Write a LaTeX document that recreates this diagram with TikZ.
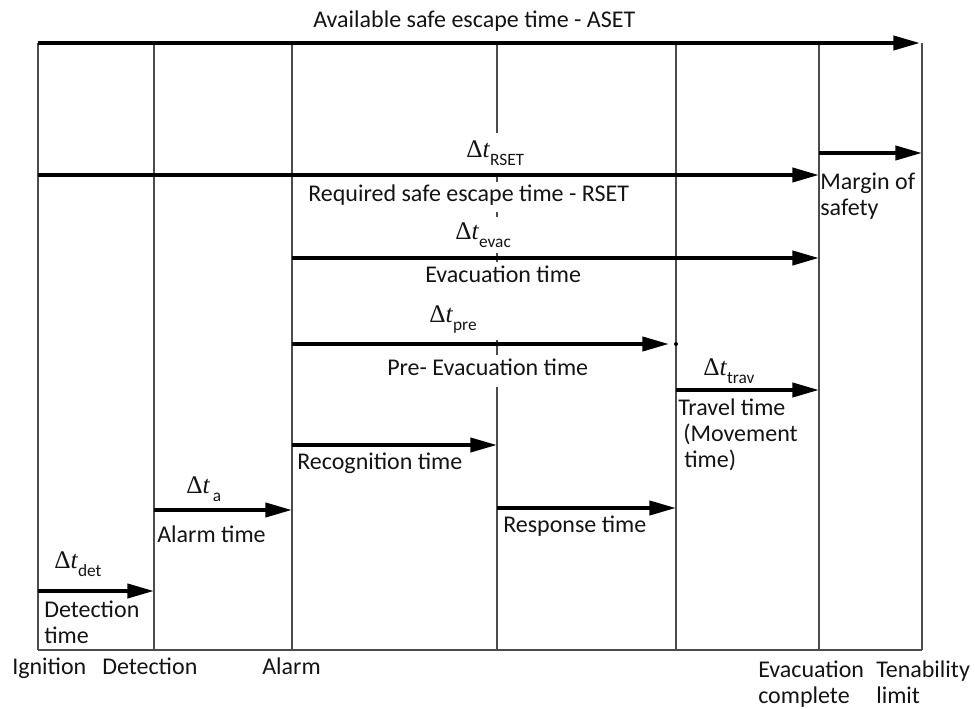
\documentclass[tikz,border=0pt]{standalone}
\usepackage{fontspec}
\setmainfont{Carlito}
\newfontfamily\deltafont{Liberation Serif}
\usetikzlibrary{arrows.meta}
\newcommand{\dtl}[1]{{\deltafont\fontsize{19}{20}\selectfont Δ\textit{t}}\raisebox{-6pt}{\fontsize{13}{13}\selectfont #1}}
\begin{document}
\begin{tikzpicture}[x=0.75pt,y=-0.75pt,
  vline/.style={draw=black!70, line width=1.1pt},
  tarrow/.style={line width=3pt, -{Triangle[length=20pt,width=10.5pt]}},
  lbl/.style={inner sep=0pt, anchor=base west, font=\fontsize{18}{20}\selectfont, text=black!92},
]
\useasboundingbox (0,0) rectangle (975,709);

% time instants (top and bottom of each timeline)
\foreach \n/\x in {ign/38, det/154, ala/292, mid/497, res/676, eva/819, ten/922}{
  \coordinate (\n-t) at (\x,43);
  \coordinate (\n-b) at (\x,650);
}
% vertical lines
\foreach \n in {ign, det, ala, res, eva, ten}{
  \draw[vline] (\n-t) -- (\n-b);
}
% middle line, interrupted by labels
\foreach \a/\b in {43/133, 177/182, 212/217, 253/262, 340/355, 387/650}{
  \draw[vline] (497,\a) -- (497,\b);
}
% baseline
\draw[vline] (ign-b) -- (ten-b);

% arrows
\coordinate (asetS) at (38,43);   \coordinate (asetE) at (920,43);
\coordinate (rsetS) at (38,175);  \coordinate (rsetE) at (819,175);
\coordinate (marS) at (819,153);  \coordinate (marE) at (922,153);
\coordinate (evS) at (292,258);   \coordinate (evE) at (819,258);
\coordinate (preS) at (292,344);  \coordinate (preE) at (669,344);
\coordinate (trS) at (676,390);   \coordinate (trE) at (819,390);
\coordinate (recS) at (292,445);  \coordinate (recE) at (497,445);
\coordinate (rspS) at (497,508);  \coordinate (rspE) at (676,508);
\coordinate (alS) at (154,510);   \coordinate (alE) at (292,510);
\coordinate (dtS) at (38,591);    \coordinate (dtE) at (154,591);

\draw[tarrow] (asetS) -- (asetE);
\draw[tarrow] (rsetS) -- (rsetE);
\draw[tarrow] (marS) -- (marE);
\draw[tarrow] (evS) -- (evE);
\draw[tarrow] (preS) -- (preE);
\fill (676,344) circle (2);
\draw[tarrow] (trS) -- (trE);
\draw[tarrow] (recS) -- (recE);
\draw[tarrow] (rspS) -- (rspE);
\draw[tarrow] (alS) -- (alE);
\draw[tarrow] (dtS) -- (dtE);

% labels
\node[lbl] (aset) at (313,28) {Available safe escape time - ASET};
\node[lbl] (dRSET) at (466,158) {\dtl{RSET}};
\node[lbl] (rset) at (308,202) {Required safe escape time - RSET};
\node[lbl] (mar1) at (820,190) {Margin of};
\node[lbl] (mar2) at (820,216) {safety};
\node[lbl] (dEvac) at (455,240) {\dtl{evac}};
\node[lbl] (evac) at (425,283) {Evacuation time};
\node[lbl] (dPre) at (429,323) {\dtl{pre}};
\node[lbl] (pre) at (387,375) {Pre- Evacuation time};
\node[lbl] (dTrav) at (703,375) {\dtl{trav}};
\node[lbl] (tr1) at (678,415) {Travel time};
\node[lbl] (tr2) at (683,441) {(Movement};
\node[lbl] (tr3) at (684,467) {time)};
\node[lbl] (rec) at (297,469) {Recognition time};
\node[lbl] (rsp) at (503,532) {Response time};
\node[lbl] (dA) at (186,493) {\dtl{\,a}};
\node[lbl] (alt) at (157,542) {Alarm time};
\node[lbl] (dDet) at (54,568) {\dtl{det}};
\node[lbl] (det1) at (44,617) {Detection};
\node[lbl] (det2) at (44,643) {time};
\node[lbl] (bIgn) at (12,674) {Ignition};
\node[lbl] (bDet) at (102,674) {Detection};
\node[lbl] (bAla) at (262,674) {Alarm};
\node[lbl] (bEv1) at (758,677) {Evacuation};
\node[lbl] (bEv2) at (758,703) {complete};
\node[lbl] (bTe1) at (876,677) {Tenability};
\node[lbl] (bTe2) at (876,703) {limit};
\end{tikzpicture}
\end{document}
